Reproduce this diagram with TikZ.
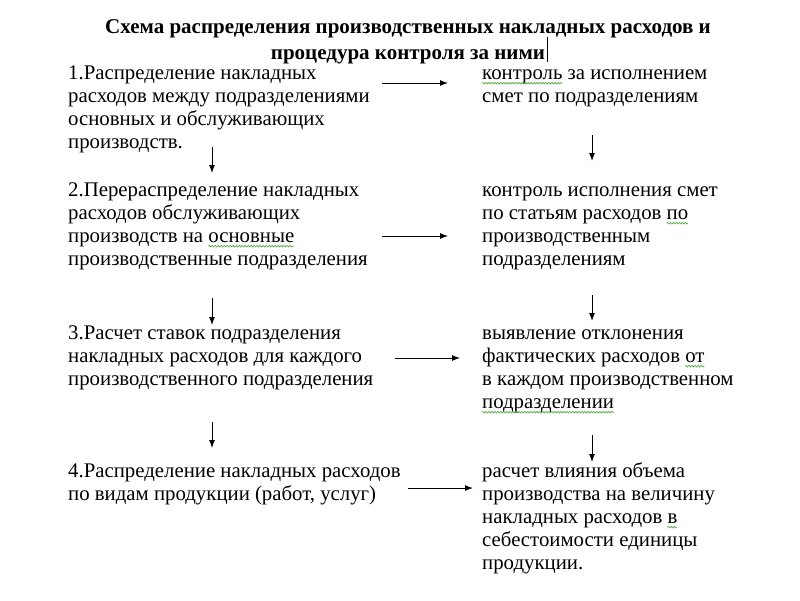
\documentclass[tikz,border=0pt]{standalone}
\usepackage{fontspec}
\setmainfont{Liberation Serif}
\usetikzlibrary{arrows.meta,decorations.pathmorphing}
\definecolor{spellgreen}{RGB}{90,170,70}
\newcommand\bodyfont{\fontsize{20.8}{23}\selectfont}
\newlength\wpre
\newlength\wwrd
\tikzset{
  body/.style={inner sep=0pt, anchor=base west, font=\bodyfont},
  ttl/.style={inner sep=0pt, anchor=base, font=\fontsize{21}{26}\selectfont\bfseries},
  arr/.style={-{Latex[length=8pt,width=6pt]}, line width=1pt, black},
  spellwave/.style={draw=spellgreen, line width=0.7pt, decorate, decoration={snake, amplitude=0.8pt, segment length=3pt}},
}
% measure where a spell-check wave goes: name, block x, text before the word, word
\newcommand\calcwave[4]{%
  \settowidth\wpre{\bodyfont #3}\settowidth\wwrd{\bodyfont #4}%
  \pgfmathsetmacro\tmpwa{#2+\wpre/1pt}%
  \pgfmathsetmacro\tmpwb{#2+(\wpre+\wwrd)/1pt}%
  \expandafter\let\csname #1a\endcsname\tmpwa
  \expandafter\let\csname #1b\endcsname\tmpwb}
\begin{document}
\calcwave{waveA}{482}{}{контроль}
\calcwave{waveB}{68}{производств на }{основные}
\calcwave{waveC}{482}{по статьям расходов }{по}
\calcwave{waveD}{482}{фактических расходов }{от}
\calcwave{waveE}{482}{}{подразделении}
\calcwave{waveF}{482}{накладных расходов }{в}
\begin{tikzpicture}[x=1pt,y=-1pt]
\useasboundingbox (0,0) rectangle (800,600);
\fill[white] (0,0) rectangle (800,600);

\node[ttl] (title) at (408,33) {\parbox[t]{780pt}{\centering Схема распределения производственных накладных расходов и\\процедура контроля за ними}};
\coordinate (curA) at (547,37);
\coordinate (curB) at (547,62);
\draw[line width=1pt] (curA) -- (curB);

\node[body] (L1) at (68,79) {\parbox[t]{360pt}{\raggedright 1.Распределение накладных\\расходов между подразделениями\\основных и обслуживающих\\производств.}};
\node[body] (R1) at (482,79) {\parbox[t]{310pt}{\raggedright контроль за исполнением\\смет по подразделениям}};

\node[body] (L2) at (68,196) {\parbox[t]{360pt}{\raggedright 2.Перераспределение накладных\\расходов обслуживающих\\производств на основные\\производственные подразделения}};
\node[body] (R2) at (482,196) {\parbox[t]{310pt}{\raggedright контроль исполнения смет\\по статьям расходов по\\производственным\\подразделениям}};

\node[body] (L3) at (68,339) {\parbox[t]{360pt}{\raggedright 3.Расчет ставок подразделения\\накладных расходов для каждого\\производственного подразделения}};
\node[body] (R3) at (482,339) {\parbox[t]{310pt}{\raggedright выявление отклонения\\фактических расходов от\\в каждом производственном\\подразделении}};

\node[body] (L4) at (68,477) {\parbox[t]{380pt}{\raggedright 4.Распределение накладных расходов\\по видам продукции (работ, услуг)}};
\node[body] (R4) at (482,477) {\parbox[t]{310pt}{\raggedright расчет влияния объема\\производства на величину\\накладных расходов в\\себестоимости единицы\\продукции.}};

% spell-check waves
\path[spellwave] (\waveAa,83.2) -- (\waveAb,83.2);
\path[spellwave] (\waveBa,246.2) -- (\waveBb,246.2);
\path[spellwave] (\waveCa,223.2) -- (\waveCb,223.2);
\path[spellwave] (\waveDa,366.2) -- (\waveDb,366.2);
\path[spellwave] (\waveEa,412.2) -- (\waveEb,412.2);
\path[spellwave] (\waveFa,527.2) -- (\waveFb,527.2);

% horizontal arrows
\coordinate (h1s) at (382,83);  \coordinate (h1e) at (448,83);
\coordinate (h2s) at (382,236); \coordinate (h2e) at (448,236);
\coordinate (h3s) at (395,358); \coordinate (h3e) at (460,358);
\coordinate (h4s) at (408,488); \coordinate (h4e) at (473,488);
\draw[arr] (h1s) -- (h1e);
\draw[arr] (h2s) -- (h2e);
\draw[arr] (h3s) -- (h3e);
\draw[arr] (h4s) -- (h4e);

% vertical arrows, left
\coordinate (v1s) at (212,147); \coordinate (v1e) at (212,173);
\coordinate (v2s) at (212,298); \coordinate (v2e) at (212,325);
\coordinate (v3s) at (212,422); \coordinate (v3e) at (212,448);
\draw[arr] (v1s) -- (v1e);
\draw[arr] (v2s) -- (v2e);
\draw[arr] (v3s) -- (v3e);

% vertical arrows, right
\coordinate (w1s) at (592,135); \coordinate (w1e) at (592,161);
\coordinate (w2s) at (592,295); \coordinate (w2e) at (592,321);
\coordinate (w3s) at (592,435); \coordinate (w3e) at (592,462);
\draw[arr] (w1s) -- (w1e);
\draw[arr] (w2s) -- (w2e);
\draw[arr] (w3s) -- (w3e);
\end{tikzpicture}
\end{document}
